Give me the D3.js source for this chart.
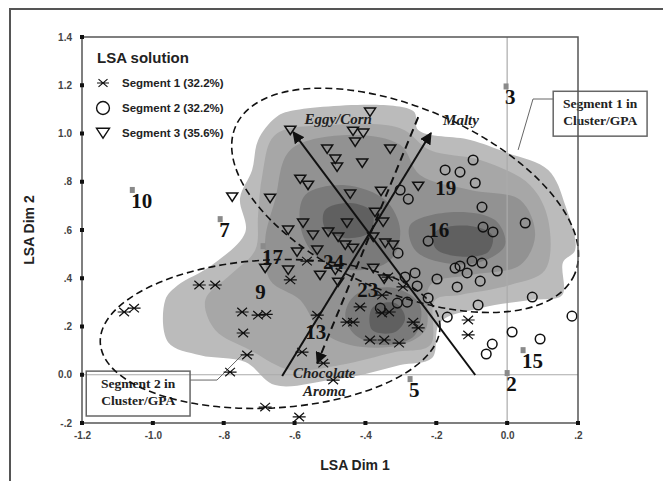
<!DOCTYPE html>
<html>
<head>
<meta charset="utf-8">
<script src="https://cdn.jsdelivr.net/npm/d3@7"></script>
<style>
body { margin: 0; background: #fff; }
</style>
</head>
<body>
<script>
// LSA solution: respondents by segment, product positions, attribute vectors

const xTicks = [-1.2, -1.0, -0.8, -0.6, -0.4, -0.2, 0, 0.2];
const xTickLabels = ['-1.2', '-1.0', '-.8', '-.6', '-.4', '-.2', '0.0', '.2'];
const yTicks = [-0.2, 0, 0.2, 0.4, 0.6, 0.8, 1.0, 1.2, 1.4];
const yTickLabels = ['-.2', '0.0', '.2', '.4', '.6', '.8', '1.0', '1.2', '1.4'];

const segmentNames = ['Segment 1 (32.2%)', 'Segment 2 (32.2%)', 'Segment 3 (35.6%)'];

// Segment 1 (stars)
const segment1 = [
    [-1.081, 0.260], [-1.053, 0.276], [-0.869, 0.372], [-0.824, 0.372],
    [-0.612, 0.393], [-0.565, 0.471], [-0.748, 0.260], [-0.703, 0.247],
    [-0.680, 0.250], [-0.745, 0.173], [-0.734, 0.082], [-0.782, 0.011],
    [-0.683, -0.134], [-0.587, -0.175], [-0.579, 0.094], [-0.519, 0.048],
    [-0.491, -0.022], [-0.536, 0.247], [-0.452, 0.218], [-0.435, 0.218],
    [-0.415, 0.281], [-0.387, 0.144], [-0.347, 0.144], [-0.305, 0.131],
    [-0.336, 0.405], [-0.294, 0.364], [-0.353, 0.330], [-0.353, 0.256],
    [-0.333, 0.260], [-0.265, 0.218], [-0.251, 0.194], [-0.110, 0.227],
    [-0.110, 0.165]
];

// Segment 2 (circles)
const segment2 = [
    [-0.096, 0.890], [-0.175, 0.849], [-0.133, 0.840], [-0.090, 0.795],
    [-0.302, 0.766], [-0.279, 0.728], [-0.071, 0.695], [0.051, 0.629],
    [-0.068, 0.612], [-0.040, 0.592], [-0.223, 0.554], [-0.308, 0.504],
    [-0.147, 0.442], [-0.133, 0.451], [-0.099, 0.471], [-0.071, 0.463],
    [-0.113, 0.422], [-0.028, 0.430], [-0.076, 0.388], [-0.198, 0.397],
    [-0.141, 0.364], [-0.288, 0.405], [-0.260, 0.422], [-0.254, 0.368],
    [-0.223, 0.318], [0.071, 0.322], [-0.310, 0.297], [-0.282, 0.301],
    [-0.082, 0.289], [-0.169, 0.239], [0.183, 0.243], [0.014, 0.177],
    [0.093, 0.148], [-0.042, 0.127], [-0.059, 0.086], [-0.358, 0.276]
];

// Segment 3 (triangles)
const segment3 = [
    [-0.387, 1.089], [-0.612, 1.014], [-0.435, 1.010], [-0.406, 1.002],
    [-0.429, 0.965], [-0.508, 0.936], [-0.330, 0.936], [-0.485, 0.894],
    [-0.480, 0.861], [-0.409, 0.878], [-0.584, 0.811], [-0.562, 0.786],
    [-0.443, 0.749], [-0.356, 0.761], [-0.251, 0.782], [-0.776, 0.737],
    [-0.669, 0.732], [-0.373, 0.674], [-0.350, 0.633], [-0.618, 0.600],
    [-0.576, 0.629], [-0.548, 0.579], [-0.505, 0.592], [-0.452, 0.629],
    [-0.477, 0.571], [-0.457, 0.538], [-0.435, 0.525], [-0.593, 0.509],
    [-0.536, 0.517], [-0.378, 0.571], [-0.344, 0.546], [-0.322, 0.538],
    [-0.683, 0.442], [-0.618, 0.434], [-0.528, 0.413], [-0.485, 0.434],
    [-0.378, 0.442], [-0.477, 0.384], [-0.347, 0.397]
];

// products
const productNames = ['3', '10', '7', '17', '9', '24', '23', '13', '19', '16', '5', '2', '15'];
const productX = [-0.003, -1.058, -0.810, -0.689, -0.708, -0.517, -0.420, -0.567, -0.200, -0.220, -0.274, 0.000, 0.045];
const productY = [1.195, 0.766, 0.645, 0.533, 0.388, 0.513, 0.397, 0.222, 0.819, 0.645, -0.018, 0.007, 0.102];
const productMarked = [true, true, true, true, false, false, false, false, false, false, true, true, true];

// attribute vectors
const vectorNames = ['Eggy/Corn', 'Malty', 'Chocolate Aroma'];
const vectorFrom = [[-0.090, -0.001], [-0.635, -0.005], [-0.251, 1.068]];
const vectorTo = [[-0.604, 1.006], [-0.215, 1.002], [-0.536, 0.048]];
const vectorDashed = [false, false, true];

// density surface, lightest to darkest
const densityLevel1 = [[
    [-0.612, 1.093], [-0.265, 1.093], [-0.251, 1.014], [-0.104, 0.973], [-0.006, 0.923],
    [0.116, 0.849], [0.164, 0.703], [0.192, 0.517], [0.158, 0.467], [0.155, 0.330],
    [0.065, 0.310], [-0.076, 0.276], [-0.189, 0.218], [-0.212, 0.069], [-0.302, 0.040],
    [-0.400, 0.003], [-0.500, -0.022], [-0.655, -0.043], [-0.739, 0.053], [-0.866, 0.081],
    [-0.957, 0.135], [-0.965, 0.310], [-0.929, 0.372], [-0.838, 0.450], [-0.739, 0.591],
    [-0.754, 0.732], [-0.720, 0.848], [-0.703, 0.972], [-0.655, 1.064]
]];
const densityLevel2 = [[
    [-0.655, 0.994], [-0.500, 1.035], [-0.302, 1.022], [-0.217, 0.931], [-0.076, 0.890],
    [0.065, 0.786], [0.116, 0.641], [0.107, 0.434], [0.008, 0.372], [-0.133, 0.331],
    [-0.203, 0.310], [-0.217, 0.123], [-0.316, 0.094], [-0.471, 0.040], [-0.612, 0.020],
    [-0.725, 0.102], [-0.824, 0.185], [-0.852, 0.310], [-0.782, 0.413], [-0.711, 0.517],
    [-0.703, 0.662], [-0.691, 0.828]
]];
const densityLevel3 = [[
    [-0.612, 0.932], [-0.443, 0.994], [-0.302, 0.953], [-0.246, 0.828], [-0.104, 0.766],
    [0.037, 0.724], [0.079, 0.579], [0.037, 0.455], [-0.104, 0.413], [-0.217, 0.372],
    [-0.231, 0.185], [-0.302, 0.123], [-0.443, 0.123], [-0.528, 0.185], [-0.584, 0.310],
    [-0.669, 0.392], [-0.683, 0.558], [-0.655, 0.724]
]];
const densityLevel4 = [
    [[-0.570, 0.745], [-0.457, 0.786], [-0.344, 0.724], [-0.302, 0.600], [-0.330, 0.475],
     [-0.443, 0.434], [-0.542, 0.496], [-0.584, 0.620]],
    [[-0.274, 0.620], [-0.161, 0.674], [-0.034, 0.641], [-0.006, 0.538], [-0.076, 0.467],
     [-0.189, 0.467], [-0.260, 0.517]],
    [[-0.429, 0.330], [-0.316, 0.359], [-0.246, 0.289], [-0.260, 0.165], [-0.344, 0.123],
     [-0.429, 0.165], [-0.457, 0.247]]
];
const densityLevel5 = [
    [[-0.514, 0.683], [-0.443, 0.712], [-0.381, 0.675], [-0.387, 0.592], [-0.457, 0.567], [-0.514, 0.608]],
    [[-0.203, 0.592], [-0.104, 0.617], [-0.042, 0.579], [-0.054, 0.508], [-0.147, 0.492], [-0.203, 0.525]],
    [[-0.381, 0.277], [-0.316, 0.297], [-0.288, 0.235], [-0.316, 0.177], [-0.381, 0.185]]
];
const densityColors = ['#bbbbbb', '#a7a7a7', '#929292', '#7a7a7a', '#606060'];

// cluster regions (centre, radii in data units, tilt on screen)
const clusterRegions = [
    {cx: -0.669, cy: 0.169, rx: 0.48, ry: 0.307, angle: -3},
    {cx: -0.288, cy: 0.723, rx: 0.522, ry: 0.381, angle: 23.6}
];

// callouts
const callouts = [
    {lines: ['Segment 1 in', 'Cluster/GPA'], box: [0.130, 1.175, 0.395, 0.989],
     path: [[0.130, 1.143], [0.073, 1.143], [0.031, 0.932]]},
    {lines: ['Segment 2 in', 'Cluster/GPA'], box: [-1.188, 0.015, -0.895, -0.171],
     path: [[-0.895, -0.022], [-0.819, -0.022], [-0.748, 0.082]]}
];

const width = 663;
const height = 481;
const sans = 'Liberation Sans, Arial, sans-serif';
const serif = 'Liberation Serif, Times New Roman, serif';

const x = d3.scaleLinear().domain([-1.2, 0.2]).range([82, 578]);
const y = d3.scaleLinear().domain([-0.2, 1.4]).range([423, 37]);

const svg = d3.create('svg')
    .attr('width', width)
    .attr('height', height);

svg.append('defs').append('marker')
    .attr('id', 'head')
    .attr('viewBox', '0 0 10 10')
    .attr('refX', 9)
    .attr('refY', 5)
    .attr('markerWidth', 6)
    .attr('markerHeight', 6)
    .attr('markerUnits', 'strokeWidth')
    .attr('orient', 'auto')
    .append('path')
    .attr('d', 'M0,0L10,5L0,10Z')
    .attr('fill', '#111');

// outer frame
svg.append('path')
    .attr('d', `M10,${height}V9H${width}`)
    .attr('fill', 'none')
    .attr('stroke', '#555')
    .attr('stroke-width', 2);

// density
const blob = d3.line()
    .x(d => x(d[0]))
    .y(d => y(d[1]))
    .curve(d3.curveCatmullRomClosed.alpha(0.5));

[densityLevel1, densityLevel2, densityLevel3, densityLevel4, densityLevel5].forEach((rings, i) => {
    svg.append('g')
        .selectAll('path')
        .data(rings)
        .join('path')
        .attr('d', blob)
        .attr('fill', densityColors[i]);
});

// zero lines
svg.append('line')
    .attr('x1', x(0)).attr('x2', x(0))
    .attr('y1', y(1.4)).attr('y2', y(-0.2))
    .attr('stroke', '#aaa').attr('stroke-width', 1.2);
svg.append('line')
    .attr('x1', x(-1.2)).attr('x2', x(0.2))
    .attr('y1', y(0)).attr('y2', y(0))
    .attr('stroke', '#aaa').attr('stroke-width', 1.2);

// callouts
const calloutLine = d3.line().x(d => x(d[0])).y(d => y(d[1]));
callouts.forEach(c => {
    const [x0, y0, x1, y1] = c.box;
    svg.append('rect')
        .attr('x', x(x0)).attr('y', y(y0))
        .attr('width', x(x1) - x(x0)).attr('height', y(y1) - y(y0))
        .attr('fill', 'none')
        .attr('stroke', '#666')
        .attr('stroke-width', 1.5);
    svg.append('path')
        .attr('d', calloutLine(c.path))
        .attr('fill', 'none')
        .attr('stroke', '#666')
        .attr('stroke-width', 1);
    c.lines.forEach((t, i) => {
        svg.append('text')
            .attr('x', (x(x0) + x(x1)) / 2)
            .attr('y', y(y0) + 17 + i * 17)
            .attr('text-anchor', 'middle')
            .attr('font-family', serif)
            .attr('font-weight', 'bold')
            .attr('font-size', 13.5)
            .attr('fill', '#222')
            .text(t);
    });
});

// cluster ellipses
svg.append('g')
    .selectAll('ellipse')
    .data(clusterRegions)
    .join('ellipse')
    .attr('transform', d => `translate(${x(d.cx)},${y(d.cy)}) rotate(${d.angle})`)
    .attr('rx', d => x(d.cx + d.rx) - x(d.cx))
    .attr('ry', d => y(d.cy) - y(d.cy + d.ry))
    .attr('fill', 'none')
    .attr('stroke', '#111')
    .attr('stroke-width', 1.6)
    .attr('stroke-dasharray', '7,4');

// vectors
svg.append('g')
    .selectAll('line')
    .data(vectorNames)
    .join('line')
    .attr('x1', (d, i) => x(vectorFrom[i][0]))
    .attr('y1', (d, i) => y(vectorFrom[i][1]))
    .attr('x2', (d, i) => x(vectorTo[i][0]))
    .attr('y2', (d, i) => y(vectorTo[i][1]))
    .attr('stroke', '#111')
    .attr('stroke-width', 2)
    .attr('stroke-dasharray', (d, i) => vectorDashed[i] ? '8,5' : null)
    .attr('marker-end', 'url(#head)');

// symbols
const starPath = s => `M${-s},0H${s}M${-s * 0.75},${-s * 0.65}L${s * 0.75},${s * 0.65}M${-s * 0.75},${s * 0.65}L${s * 0.75},${-s * 0.65}`;
const trianglePath = s => `M${-s},${-s * 0.72}H${s}L0,${s * 0.8}Z`;

const pts = svg.append('g')
    .attr('fill', 'none')
    .attr('stroke', '#111')
    .attr('stroke-width', 1.5);

pts.selectAll('.s1')
    .data(segment1)
    .join('path')
    .attr('class', 's1')
    .attr('transform', d => `translate(${x(d[0])},${y(d[1])})`)
    .attr('d', starPath(6.5))
    .attr('stroke-width', 1.2);

pts.selectAll('.s2')
    .data(segment2)
    .join('circle')
    .attr('class', 's2')
    .attr('cx', d => x(d[0]))
    .attr('cy', d => y(d[1]))
    .attr('r', 4.8);

pts.selectAll('.s3')
    .data(segment3)
    .join('path')
    .attr('class', 's3')
    .attr('transform', d => `translate(${x(d[0])},${y(d[1])})`)
    .attr('d', trianglePath(5.5));

// vector labels
const vlab = svg.append('g')
    .attr('font-family', serif)
    .attr('font-weight', 'bold')
    .attr('font-style', 'italic')
    .attr('font-size', 15)
    .attr('fill', '#222')
    .attr('text-anchor', 'middle');
vlab.append('text').attr('x', x(vectorTo[0][0]) + 45).attr('y', y(vectorTo[0][1]) - 8).text('Eggy/Corn');
vlab.append('text').attr('x', x(vectorTo[1][0]) + 30).attr('y', y(vectorTo[1][1]) - 8).text('Malty');
vectorNames[2].split(' ').forEach((t, i) => {
    const tx = x(vectorTo[2][0]) + 7;
    const ty = y(vectorTo[2][1]) + 15 + i * 18;
    const tt = vlab.append('text').attr('x', tx).attr('y', ty).text(t);
    const w = tt.node().getComputedTextLength();
    vlab.append('line')
        .attr('x1', tx - w / 2).attr('x2', tx + w / 2)
        .attr('y1', ty + 3).attr('y2', ty + 3)
        .attr('stroke', '#222').attr('stroke-width', 1.2);
});

// products
const prod = svg.append('g');
prod.selectAll('rect')
    .data(productNames.filter((d, i) => productMarked[i]))
    .join('rect')
    .attr('x', d => x(productX[productNames.indexOf(d)]) - 2.5)
    .attr('y', d => y(productY[productNames.indexOf(d)]) - 3)
    .attr('width', 5)
    .attr('height', 6)
    .attr('fill', '#8a8a8a');
prod.selectAll('text')
    .data(productNames)
    .join('text')
    .attr('x', (d, i) => x(productX[i]) - 1)
    .attr('y', (d, i) => y(productY[i]) + 18)
    .attr('font-family', serif)
    .attr('font-weight', 'bold')
    .attr('font-size', 21)
    .attr('fill', '#111')
    .text(d => d);

// axes
const xAxis = d3.axisBottom(x)
    .tickValues(xTicks)
    .tickFormat((d, i) => xTickLabels[i])
    .tickSize(0)
    .tickPadding(9);
const yAxis = d3.axisLeft(y)
    .tickValues(yTicks)
    .tickFormat((d, i) => yTickLabels[i])
    .tickSize(0)
    .tickPadding(10);

svg.append('g')
    .attr('transform', `translate(0,${y(-0.2)})`)
    .call(xAxis)
    .call(g => g.select('.domain').remove())
    .call(g => g.selectAll('text')
        .attr('font-family', sans).attr('font-weight', 'bold').attr('font-size', 10).attr('fill', '#444'));

svg.append('g')
    .attr('transform', `translate(${x(-1.2)},0)`)
    .call(yAxis)
    .call(g => g.select('.domain').remove())
    .call(g => g.selectAll('text')
        .attr('font-family', sans).attr('font-weight', 'bold').attr('font-size', 10).attr('fill', '#444'));

// plot box
svg.append('rect')
    .attr('x', x(-1.2)).attr('y', y(1.4))
    .attr('width', x(0.2) - x(-1.2)).attr('height', y(-0.2) - y(1.4))
    .attr('fill', 'none')
    .attr('stroke', '#555')
    .attr('stroke-width', 1.5);

svg.append('g').selectAll('rect')
    .data(xTicks)
    .join('rect')
    .attr('x', d => x(d) - 2).attr('y', y(-0.2) - 2)
    .attr('width', 4).attr('height', 4).attr('fill', '#111');
svg.append('g').selectAll('rect')
    .data(yTicks)
    .join('rect')
    .attr('x', x(-1.2) - 2).attr('y', d => y(d) - 2)
    .attr('width', 4).attr('height', 4).attr('fill', '#111');

svg.append('text')
    .attr('x', 355).attr('y', 470)
    .attr('text-anchor', 'middle')
    .attr('font-family', sans).attr('font-weight', 'bold').attr('font-size', 14).attr('fill', '#222')
    .text('LSA Dim 1');
svg.append('text')
    .attr('transform', 'translate(34,230) rotate(-90)')
    .attr('text-anchor', 'middle')
    .attr('font-family', sans).attr('font-weight', 'bold').attr('font-size', 14).attr('fill', '#222')
    .text('LSA Dim 2');

// legend
const legend = svg.append('g').attr('transform', 'translate(97,0)');
legend.append('text')
    .attr('x', 0).attr('y', 63)
    .attr('font-family', sans).attr('font-weight', 'bold').attr('font-size', 15).attr('fill', '#222')
    .text('LSA solution');
const legendRow = legend.selectAll('.row')
    .data(segmentNames)
    .join('g')
    .attr('class', 'row')
    .attr('transform', (d, i) => `translate(6,${83 + i * 25})`);
legendRow.append('path')
    .attr('d', (d, i) => i === 0 ? starPath(6) : i === 1 ? d3.symbol(d3.symbolCircle, 130)() : trianglePath(6.5))
    .attr('fill', 'none')
    .attr('stroke', '#111')
    .attr('stroke-width', (d, i) => i === 0 ? 1.2 : 1.4);
legendRow.append('text')
    .attr('x', 19).attr('y', 4)
    .attr('font-family', sans).attr('font-weight', 'bold').attr('font-size', 11.5).attr('fill', '#222')
    .text(d => d);

document.querySelector('body').appendChild(svg.node());
</script>
</body>
</html>
